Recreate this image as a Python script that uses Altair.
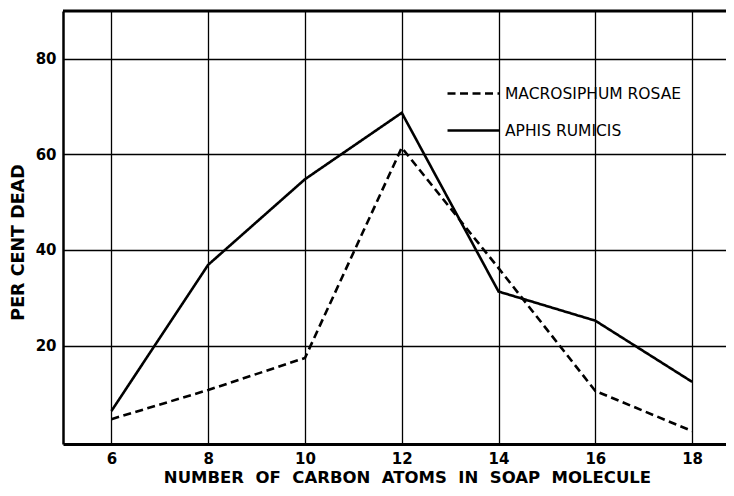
import altair as alt
import pandas as pd

carbon_atoms = [6, 8, 10, 12, 14, 16, 18]
macrosiphum_rosae = [4.6, 10.7, 17.4, 61.4, 36.2, 10.5, 2.1]
aphis_rumicis = [6.3, 36.9, 54.8, 68.7, 31.3, 25.2, 12.4]
series_names = ["MACROSIPHUM ROSAE", "APHIS RUMICIS"]
x_ticks = [6, 8, 10, 12, 14, 16, 18]
y_ticks = [20, 40, 60, 80]

rows = []
for name, vals in zip(series_names, [macrosiphum_rosae, aphis_rumicis]):
    for c, v in zip(carbon_atoms, vals):
        rows.append({"carbon": c, "dead": v, "species": name})
df = pd.DataFrame(rows)

FONT = "DejaVu Sans"
NB = " \u00a0"
x_title = NB.join(["NUMBER", "OF", "CARBON", "ATOMS", "IN", "SOAP", "MOLECULE"])

x_scale = alt.Scale(domain=[5, 18.70], nice=False, zero=False)
y_scale = alt.Scale(domain=[-0.6, 90], nice=False, zero=False)

lines = alt.Chart(df).mark_line(strokeWidth=2.6, color="black").encode(
    x=alt.X("carbon:Q", scale=x_scale,
            axis=alt.Axis(values=x_ticks, title=x_title, grid=True, gridColor="black",
                          gridWidth=1.3, gridOpacity=1, ticks=False, domain=True,
                          domainColor="black", domainWidth=3, labelFont=FONT,
                          labelFontSize=15, labelFontWeight="bold", labelColor="black",
                          labelPadding=7, titleFont=FONT, titleFontSize=16.5,
                          titleFontWeight="bold", titleColor="black",
                          titleX=344, titleY=41, titleAlign="center",
                          titleBaseline="bottom", titleAnchor="start")),
    y=alt.Y("dead:Q", scale=y_scale,
            axis=alt.Axis(values=y_ticks, title="PER CENT DEAD", grid=True, gridColor="black",
                          gridWidth=1.3, gridOpacity=1, ticks=False, domain=True,
                          domainColor="black", domainWidth=2.5, labelFont=FONT,
                          labelFontSize=15, labelFontWeight="bold", labelColor="black",
                          labelPadding=7, titleFont=FONT, titleFontSize=17.5,
                          titleFontWeight="bold", titleColor="black",
                          titleX=-45, titleY=231, titleAngle=-90, titleAlign="center",
                          titleBaseline="middle", titleAnchor="start")),
    strokeDash=alt.StrokeDash("species:N",
                              scale=alt.Scale(domain=series_names, range=[[8, 4.5], [1, 0]]),
                              legend=alt.Legend(title=None, orient="none", legendX=383, legendY=55,
                                                symbolType="stroke", symbolSize=2700,
                                                symbolStrokeWidth=2.5, symbolStrokeColor="black",
                                                labelFont=FONT, labelFontSize=15.5,
                                                labelColor="black", labelOffset=4,
                                                labelLimit=300, rowPadding=1)),
)

top_rule = alt.Chart(pd.DataFrame({"y": [90]})).mark_rule(color="black", strokeWidth=3).encode(
    y=alt.Y("y:Q", scale=y_scale)
)

chart = alt.layer(lines, top_rule).properties(
    width=663, height=433,
    autosize=alt.AutoSizeParams(type="none"),
    padding={"left": 55, "top": 3, "right": 0, "bottom": 42},
).configure_view(stroke=None).configure(background="white")

chart.save("out.html", embed_options={"renderer": "svg", "actions": False})
